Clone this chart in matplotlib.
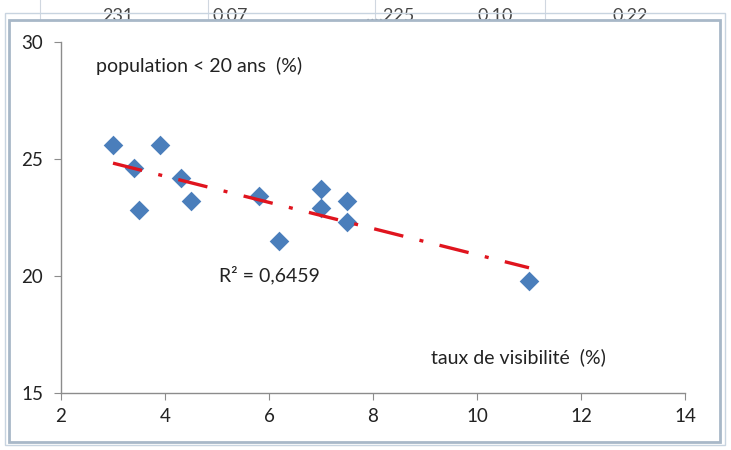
import matplotlib
matplotlib.use("Agg")
import matplotlib.pyplot as plt
from matplotlib.patches import Rectangle
import numpy as np

plt.rcParams['font.family'] = ['Lato', 'DejaVu Sans']

# data
visibilite = [3.0, 3.4, 3.5, 3.9, 4.3, 4.5, 5.8, 6.2, 7.0, 7.0, 7.5, 7.5, 11.0]
pop_moins20 = [25.6, 24.6, 22.8, 25.6, 24.2, 23.2, 23.4, 21.5, 23.7, 22.9, 23.2, 22.3, 19.8]
x_ticks = [2, 4, 6, 8, 10, 12, 14]
y_ticks = [15, 20, 25, 30]
r2_label = "R² = 0,6459"
y_label = "population < 20 ans  (%)"
x_label = "taux de visibilité  (%)"
sheet_texts = ["231", "0.07", "....225", "0.10", "0.22"]

W, H = 731, 450
fig = plt.figure(figsize=(W / 100, H / 100), dpi=100)
fig.patch.set_facecolor('white')

# spreadsheet background behind the chart
for xpx, t in zip([118, 230, 390, 495, 630], sheet_texts):
    fig.text(xpx / W, 1 - 16 / H, t, fontsize=13, color='#444444', ha='center', va='center')
for xpx in [40, 208, 375, 545]:
    fig.add_artist(plt.Line2D([xpx / W, xpx / W], [1 - 20 / H, 1], color='#d0d7e0', lw=0.8))
# chart area frame
fig.add_artist(Rectangle((9 / W, 8 / H), (720 - 9) / W, (430 - 8) / H, facecolor='white',
                         edgecolor='#a8b8c8', lw=2, transform=fig.transFigure, zorder=5))
fig.add_artist(Rectangle((5 / W, 5 / H), (725 - 5) / W, (437 - 5) / H, facecolor='none',
                         edgecolor='#c8d4e0', lw=1, transform=fig.transFigure, zorder=5))

ax = fig.add_axes([61 / W, (H - 393) / H, (685 - 61) / W, (393 - 42) / H])
ax.set_facecolor('none')
ax.set_zorder(6)
ax.scatter(visibilite, pop_moins20, marker='D', s=100, color='#4a7ebb', zorder=3, linewidths=0)

coef = np.polyfit(visibilite, pop_moins20, 1)
xs = np.array([min(visibilite), max(visibilite)])
line, = ax.plot(xs, np.polyval(coef, xs), color='#e0141e', lw=2.4, zorder=4)
line.set_dashes([9, 5, 1.2, 5])

ax.set_xlim(2, 14)
ax.set_ylim(15, 30)
ax.set_xticks(x_ticks)
ax.set_yticks(y_ticks)
for s in ['top', 'right']:
    ax.spines[s].set_visible(False)
for s in ['left', 'bottom']:
    ax.spines[s].set_color('#8c8c8c')
    ax.spines[s].set_linewidth(1)
ax.tick_params(axis='both', direction='out', length=5, color='#8c8c8c', labelsize=13.5, labelcolor='#222222')
ax.tick_params(axis='x', pad=6)
ax.tick_params(axis='y', pad=8)

ax.text(2.67, 28.97, y_label, fontsize=14, color='#222222', va='center', ha='left')
ax.text(5.04, 20.04, r2_label, fontsize=14, color='#222222', va='center', ha='left')
ax.text(9.12, 16.54, x_label, fontsize=14, color='#222222', va='center', ha='left')

fig.savefig('out.png', dpi=100)
